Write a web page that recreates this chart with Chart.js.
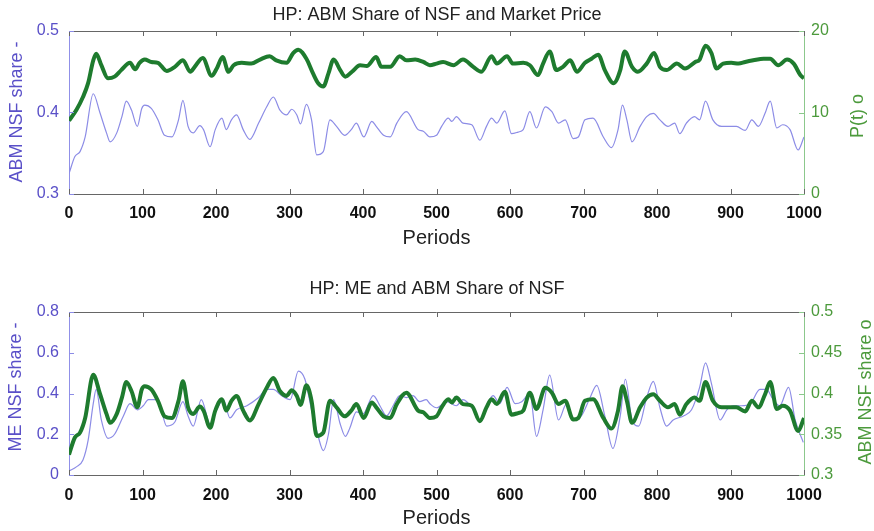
<!DOCTYPE html>
<html>
<head>
<meta charset="utf-8">
<script src="https://cdn.jsdelivr.net/npm/chart.js@4.4.1/dist/chart.umd.min.js"></script>
<style>
  html, body { margin: 0; padding: 0; background: #fff; }
  #wrap { position: relative; width: 874px; height: 531px; }
  canvas { position: absolute; left: 0; }
  #top { top: 0; }
  #bottom { top: 265px; }
</style>
</head>
<body>
<div id="wrap">
  <canvas id="top" width="874" height="265"></canvas>
  <canvas id="bottom" width="874" height="266"></canvas>
</div>
<script>
"use strict";

// ABM share of NSF (top: blue, left axis; bottom: green, right axis)
var abmPeriods = [0, 8, 15, 22, 33, 42, 51, 56, 65, 72, 78, 85, 93, 99, 103, 112, 121, 130, 140, 149,
  155, 162, 169, 178, 183, 192, 199, 208, 214, 221, 228, 237, 246, 258, 269, 278, 287, 296, 303, 310,
  315, 323, 330, 337, 346, 355, 364, 375, 384, 391, 401, 412, 418, 428, 437, 446, 459, 475, 482, 491,
  500, 507, 516, 521, 527, 536, 548, 559, 568, 575, 582, 593, 602, 611, 618, 627, 636, 648, 657, 666,
  675, 686, 693, 702, 713, 727, 738, 747, 753, 759, 766, 777, 786, 795, 804, 815, 824, 831, 840, 851,
  858, 866, 876, 888, 899, 908, 920, 929, 938, 947, 954, 963, 971, 981, 992, 1000];
var abmShare = [0.325, 0.346, 0.352, 0.370, 0.423, 0.400, 0.375, 0.364, 0.375, 0.395, 0.414, 0.403, 0.383, 0.405, 0.409, 0.405, 0.391, 0.372, 0.370, 0.391,
  0.415, 0.383, 0.375, 0.384, 0.379, 0.358, 0.379, 0.393, 0.379, 0.391, 0.397, 0.379, 0.367, 0.387, 0.407, 0.419, 0.403, 0.397, 0.404, 0.397,
  0.386, 0.410, 0.391, 0.348, 0.352, 0.391, 0.383, 0.372, 0.379, 0.387, 0.370, 0.389, 0.383, 0.372, 0.370, 0.387, 0.401, 0.379, 0.377, 0.370,
  0.372, 0.383, 0.393, 0.389, 0.395, 0.387, 0.385, 0.366, 0.383, 0.393, 0.387, 0.402, 0.374, 0.376, 0.379, 0.401, 0.381, 0.407, 0.401, 0.387,
  0.391, 0.368, 0.370, 0.391, 0.393, 0.370, 0.357, 0.379, 0.409, 0.391, 0.364, 0.383, 0.395, 0.399, 0.391, 0.383, 0.387, 0.374, 0.387, 0.395,
  0.391, 0.414, 0.391, 0.383, 0.383, 0.383, 0.378, 0.391, 0.383, 0.399, 0.414, 0.381, 0.385, 0.379, 0.354, 0.370];

// Market price P(t) (top: green, right axis)
var pricePeriods = [0, 10, 19, 26, 33, 37, 44, 53, 62, 71, 83, 90, 96, 103, 112, 121, 133, 144, 155, 165,
  171, 182, 194, 201, 209, 217, 224, 235, 248, 260, 273, 282, 296, 305, 312, 323, 332, 339, 346, 353,
  360, 369, 376, 385, 396, 405, 418, 425, 437, 450, 459, 471, 482, 491, 500, 509, 523, 536, 550, 561,
  575, 582, 596, 604, 618, 627, 638, 645, 654, 663, 672, 682, 691, 702, 711, 720, 729, 741, 750, 756,
  766, 774, 786, 796, 804, 813, 827, 838, 852, 858, 866, 874, 881, 890, 901, 911, 920, 931, 945, 954,
  965, 977, 986, 995, 1000];
var price = [9.0, 10.3, 11.9, 13.6, 16.4, 17.2, 15.8, 14.2, 14.4, 15.2, 16.1, 15.3, 16.1, 16.5, 16.2, 16.1, 15.1, 15.6, 16.4, 15.0,
  15.6, 16.7, 14.5, 15.4, 16.8, 15.0, 15.8, 16.1, 16.0, 16.5, 16.9, 16.4, 16.1, 17.3, 17.7, 16.6, 14.8, 13.6, 13.2, 14.8,
  16.5, 15.2, 14.4, 15.0, 15.8, 15.7, 16.8, 15.6, 15.6, 16.9, 16.4, 16.5, 16.2, 15.8, 16.0, 16.2, 15.8, 16.5, 15.6, 15.0,
  16.9, 16.0, 16.9, 16.0, 16.1, 15.8, 14.6, 16.0, 17.5, 15.2, 15.6, 16.4, 15.0, 16.1, 16.6, 17.1, 15.2, 13.6, 15.2, 17.5,
  15.6, 15.0, 16.0, 17.3, 15.6, 15.2, 16.0, 15.4, 16.2, 16.5, 18.2, 17.3, 15.4, 16.0, 16.1, 16.0, 16.2, 16.4, 16.6, 16.6,
  15.8, 16.5, 16.0, 14.6, 14.2];

// ME share of NSF (bottom: blue, left axis)
var mePeriods = [0, 10, 19, 26, 33, 37, 44, 53, 62, 74, 83, 93, 101, 108, 119, 124, 133, 144, 155, 162,
  169, 180, 192, 201, 210, 219, 228, 242, 258, 269, 278, 289, 301, 312, 321, 330, 339, 346, 353, 360,
  369, 376, 382, 391, 400, 414, 423, 432, 441, 450, 459, 468, 477, 486, 491, 500, 514, 527, 536, 550,
  559, 568, 577, 586, 596, 607, 616, 627, 636, 645, 654, 666, 677, 686, 697, 709, 718, 729, 740, 750,
  757, 766, 775, 786, 795, 804, 813, 822, 836, 847, 858, 866, 874, 886, 895, 904, 915, 927, 940, 949,
  958, 967, 979, 988, 999];
var meShare = [0.02, 0.04, 0.074, 0.17, 0.35, 0.42, 0.27, 0.18, 0.20, 0.29, 0.35, 0.32, 0.34, 0.37, 0.37, 0.34, 0.24, 0.26, 0.36, 0.29,
  0.24, 0.37, 0.25, 0.32, 0.37, 0.28, 0.32, 0.34, 0.38, 0.42, 0.42, 0.39, 0.37, 0.51, 0.47, 0.32, 0.19, 0.12, 0.20, 0.37,
  0.25, 0.19, 0.23, 0.31, 0.30, 0.39, 0.34, 0.29, 0.34, 0.39, 0.38, 0.39, 0.36, 0.37, 0.35, 0.33, 0.36, 0.34, 0.37, 0.32,
  0.26, 0.34, 0.39, 0.35, 0.43, 0.35, 0.36, 0.40, 0.19, 0.32, 0.49, 0.27, 0.35, 0.27, 0.29, 0.38, 0.44, 0.29, 0.13, 0.29,
  0.47, 0.27, 0.24, 0.38, 0.46, 0.33, 0.24, 0.27, 0.29, 0.32, 0.43, 0.55, 0.45, 0.27, 0.32, 0.34, 0.34, 0.35, 0.42, 0.42,
  0.37, 0.34, 0.43, 0.27, 0.16];

var PURPLE = '#5a50c8';
var GREEN_TXT = '#4c9a3c';
var BLUE_LINE = '#8c8ce6';
var GREEN_LINE = '#1e7b2e';
var FONT = '"Liberation Sans", Arial, sans-serif';

function toPoints(xs, ys) {
  return xs.map(function(x, i) { return { x: x, y: ys[i] }; });
}

function plainNum(v) {
  return String(parseFloat(v.toFixed(2)));
}

// MATLAB-like frame: top edge, inward tick marks, y labels reading bottom-up
var frame = {
  id: 'frame',
  afterDatasetsDraw: function(chart, args, opts) {
    var ctx = chart.ctx, a = chart.chartArea, s = chart.scales;
    function seg(x1, y1, x2, y2, c) {
      ctx.strokeStyle = c;
      ctx.beginPath(); ctx.moveTo(x1, y1); ctx.lineTo(x2, y2); ctx.stroke();
    }
    ctx.save();
    ctx.lineWidth = 1;
    seg(a.left, a.top + 0.5, a.right, a.top + 0.5, '#666');
    s.x.ticks.forEach(function(t) {
      var px = Math.round(s.x.getPixelForValue(t.value)) + 0.5;
      seg(px, a.bottom, px, a.bottom - 5, '#666');
      seg(px, a.top, px, a.top + 5, '#666');
    });
    s.yL.ticks.forEach(function(t) {
      var py = Math.round(s.yL.getPixelForValue(t.value)) + 0.5;
      seg(a.left, py, a.left + 5, py, '#8c8ce6');
    });
    s.yR.ticks.forEach(function(t) {
      var py = Math.round(s.yR.getPixelForValue(t.value)) + 0.5;
      seg(a.right, py, a.right - 5, py, '#8cc88c');
    });
    ctx.font = '18px ' + FONT;
    ctx.textAlign = 'center';
    ctx.textBaseline = 'middle';
    opts.labels.forEach(function(l) {
      ctx.save();
      ctx.translate(l.x, l.y);
      ctx.rotate(-Math.PI / 2);
      ctx.fillStyle = l.color;
      ctx.fillText(l.text, 0, 0);
      ctx.restore();
    });
    ctx.restore();
  }
};

function makeChart(id, cfg) {
  return new Chart(document.getElementById(id).getContext('2d'), {
    type: 'line',
    data: {
      datasets: [{
        data: cfg.greenData,
        yAxisID: cfg.greenAxis,
        borderColor: GREEN_LINE,
        borderWidth: 4,
        pointRadius: 0,
        cubicInterpolationMode: 'monotone'
      }, {
        data: cfg.blueData,
        yAxisID: cfg.blueAxis,
        borderColor: BLUE_LINE,
        borderWidth: 1.2,
        pointRadius: 0,
        cubicInterpolationMode: 'monotone'
      }]
    },
    options: {
      responsive: false,
      animation: false,
      layout: { padding: 0 },
      plugins: {
        legend: { display: false },
        tooltip: { enabled: false },
        title: {
          display: true,
          text: cfg.title,
          color: '#222',
          font: { family: FONT, size: 18, weight: 'normal' },
          padding: cfg.titlePad
        },
        frame: { labels: cfg.yLabels }
      },
      scales: {
        x: {
          type: 'linear',
          min: 0, max: 1000,
          grid: { display: false, drawTicks: false },
          border: { color: '#666' },
          ticks: { stepSize: 100, padding: cfg.xTickPad, color: '#111', callback: plainNum,
            font: { family: FONT, size: 16, weight: 'bold' } },
          title: { display: true, text: 'Periods', color: '#222',
            font: { family: FONT, size: 20 }, padding: { top: 0, bottom: cfg.xTitlePad } },
          afterFit: function(sc) { sc.height = cfg.xHeight; }
        },
        yL: {
          position: 'left',
          min: cfg.left[0], max: cfg.left[1],
          grid: { display: false, drawTicks: false },
          border: { color: '#9090e8' },
          ticks: { stepSize: cfg.left[2], padding: 10, color: PURPLE, callback: plainNum,
            font: { family: FONT, size: 16 } },
          afterFit: function(sc) { sc.width = 69; }
        },
        yR: {
          position: 'right',
          min: cfg.right[0], max: cfg.right[1],
          grid: { display: false, drawTicks: false },
          border: { color: '#8cc88c' },
          ticks: { stepSize: cfg.right[2], padding: 7, color: GREEN_TXT, callback: plainNum,
            font: { family: FONT, size: 16 } },
          afterFit: function(sc) { sc.width = 70; }
        }
      }
    },
    plugins: [frame]
  });
}

makeChart('top', {
  title: 'HP: ABM Share of NSF and Market Price',
  titlePad: { top: 4, bottom: 5.4 },
  greenData: toPoints(pricePeriods, price), greenAxis: 'yR',
  blueData: toPoints(abmPeriods, abmShare), blueAxis: 'yL',
  left: [0.3, 0.5, 0.1], right: [0, 20, 10],
  yLabels: [
    { text: 'ABM NSF share -', x: 17, y: 112, color: PURPLE },
    { text: 'P(t) o', x: 858, y: 116, color: GREEN_TXT }
  ],
  xHeight: 71, xTickPad: 10, xTitlePad: 15
});

makeChart('bottom', {
  title: 'HP: ME and ABM Share of NSF',
  titlePad: { top: 13, bottom: 12.4 },
  greenData: toPoints(abmPeriods, abmShare), greenAxis: 'yR',
  blueData: toPoints(mePeriods, meShare), blueAxis: 'yL',
  left: [0, 0.8, 0.2], right: [0.3, 0.5, 0.05],
  yLabels: [
    { text: 'ME NSF share -', x: 16, y: 122, color: PURPLE },
    { text: 'ABM NSF share o', x: 866, y: 127, color: GREEN_TXT }
  ],
  xHeight: 56, xTickPad: 11, xTitlePad: 1
});
</script>
</body>
</html>
